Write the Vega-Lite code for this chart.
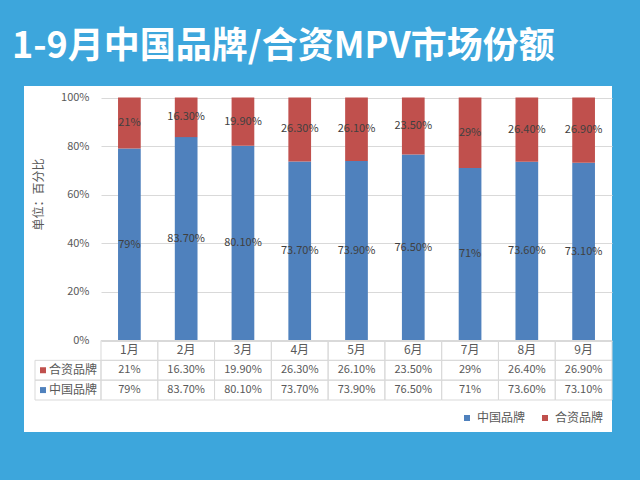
{
  "$schema": "https://vega.github.io/schema/vega-lite/v6.json",
  "width": 588,
  "height": 346,
  "autosize": "none",
  "padding": {"left": 24, "top": 86, "right": 28, "bottom": 48},
  "background": "#3DA6DC",
  "config": {
    "font": "Noto Sans CJK SC",
    "view": {"fill": "white", "stroke": null},
    "legend": {
      "orient": "bottom-right",
      "direction": "horizontal",
      "offset": 8,
      "padding": 0,
      "symbolType": "square",
      "symbolSize": 36,
      "symbolStrokeWidth": 0,
      "labelFontSize": 12,
      "labelColor": "#595959",
      "labelOffset": 4,
      "columnPadding": 13
    }
  },
  "title": {
    "text": "1-9月中国品牌/合资MPV市场份额",
    "anchor": "start",
    "frame": "group",
    "dx": -12,
    "dy": 34,
    "offset": 18,
    "baseline": "bottom",
    "font": "Noto Sans CJK SC",
    "fontSize": 36,
    "fontWeight": "bold",
    "color": "white"
  },
  "data": {
    "values": [
      {"month": "1月", "brand": "中国品牌", "value": 0.79, "label": "79%"},
      {"month": "1月", "brand": "合资品牌", "value": 0.21, "label": "21%"},
      {"month": "2月", "brand": "中国品牌", "value": 0.837, "label": "83.70%"},
      {"month": "2月", "brand": "合资品牌", "value": 0.163, "label": "16.30%"},
      {"month": "3月", "brand": "中国品牌", "value": 0.801, "label": "80.10%"},
      {"month": "3月", "brand": "合资品牌", "value": 0.199, "label": "19.90%"},
      {"month": "4月", "brand": "中国品牌", "value": 0.737, "label": "73.70%"},
      {"month": "4月", "brand": "合资品牌", "value": 0.263, "label": "26.30%"},
      {"month": "5月", "brand": "中国品牌", "value": 0.739, "label": "73.90%"},
      {"month": "5月", "brand": "合资品牌", "value": 0.261, "label": "26.10%"},
      {"month": "6月", "brand": "中国品牌", "value": 0.765, "label": "76.50%"},
      {"month": "6月", "brand": "合资品牌", "value": 0.235, "label": "23.50%"},
      {"month": "7月", "brand": "中国品牌", "value": 0.71, "label": "71%"},
      {"month": "7月", "brand": "合资品牌", "value": 0.29, "label": "29%"},
      {"month": "8月", "brand": "中国品牌", "value": 0.736, "label": "73.60%"},
      {"month": "8月", "brand": "合资品牌", "value": 0.264, "label": "26.40%"},
      {"month": "9月", "brand": "中国品牌", "value": 0.731, "label": "73.10%"},
      {"month": "9月", "brand": "合资品牌", "value": 0.269, "label": "26.90%"}
    ]
  },
  "layer": [
    {
      "encoding": {
        "x": {
          "field": "month", "type": "nominal",
          "sort": ["1月", "2月", "3月", "4月", "5月", "6月", "7月", "8月", "9月"],
          "scale": {"range": [77, 588], "paddingInner": 0.6, "paddingOuter": 0.3},
          "axis": null
        },
        "order": {"field": "brand", "type": "nominal"}
      },
      "layer": [
        {
          "mark": {"type": "bar"},
          "encoding": {
            "y": {
              "field": "value", "type": "quantitative", "stack": "zero",
              "scale": {"domain": [0, 1], "range": [254.5, 11.5], "nice": false},
              "axis": {
                "offset": -77,
                "format": ".0%",
                "values": [0, 0.2, 0.4, 0.6, 0.8, 1],
                "domain": false,
                "ticks": false,
                "labelPadding": 12,
                "labelFontSize": 11,
                "labelColor": "#595959",
                "grid": true,
                "gridColor": "#d9d9d9",
                "title": "单位：百分比",
                "titleX": -63,
                "titleY": 108,
                "titleAngle": -90,
                "titleAlign": "center",
                "titleBaseline": "middle",
                "titleFontSize": 12,
                "titleFontWeight": "normal",
                "titleColor": "#595959"
              }
            },
            "color": {
              "field": "brand", "type": "nominal",
              "scale": {"domain": ["中国品牌", "合资品牌"], "range": ["#4F81BD", "#C0504D"]},
              "legend": {"title": null}
            }
          }
        },
        {
          "mark": {"type": "text", "fontSize": 11, "color": "#404040"},
          "encoding": {
            "y": {
              "field": "value", "type": "quantitative", "stack": "zero", "bandPosition": 0.5,
              "scale": {"domain": [0, 1], "range": [254.5, 11.5], "nice": false}
            },
            "detail": {"field": "brand", "type": "nominal"},
            "text": {"field": "label", "type": "nominal"}
          }
        }
      ]
    },
    {
      "layer": [
        {
          "encoding": {
            "x": {
              "field": "month", "type": "nominal",
              "sort": ["1月", "2月", "3月", "4月", "5月", "6月", "7月", "8月", "9月"],
              "scale": {"range": [77, 588], "paddingInner": 0, "paddingOuter": 0},
              "axis": null
            }
          },
          "layer": [
            {
              "mark": {"type": "rect", "filled": false, "stroke": "#d9d9d9", "strokeWidth": 1},
              "encoding": {
                "y": {"field": "brand", "type": "nominal",
                  "scale": {"domain": ["月份", "合资品牌", "中国品牌"], "range": [254.5, 314], "paddingInner": 0, "paddingOuter": 0},
                  "axis": null}
              }
            },
            {
              "transform": [{"filter": "datum.brand === '中国品牌'"}],
              "mark": {"type": "rect", "filled": false, "stroke": "#d9d9d9", "strokeWidth": 1},
              "encoding": {
                "y": {"datum": "月份", "type": "nominal",
                  "scale": {"domain": ["月份", "合资品牌", "中国品牌"], "range": [254.5, 314], "paddingInner": 0, "paddingOuter": 0},
                  "axis": null}
              }
            },
            {
              "transform": [{"filter": "datum.brand === '中国品牌'"}],
              "mark": {"type": "text", "fontSize": 12, "color": "#595959"},
              "encoding": {
                "y": {"datum": "月份", "type": "nominal",
                  "scale": {"domain": ["月份", "合资品牌", "中国品牌"], "range": [254.5, 314], "paddingInner": 0, "paddingOuter": 0},
                  "axis": null},
                "text": {"field": "month", "type": "nominal"}
              }
            },
            {
              "mark": {"type": "text", "fontSize": 11, "color": "#595959"},
              "encoding": {
                "y": {"field": "brand", "type": "nominal",
                  "scale": {"domain": ["月份", "合资品牌", "中国品牌"], "range": [254.5, 314], "paddingInner": 0, "paddingOuter": 0},
                  "axis": null},
                "text": {"field": "label", "type": "nominal"}
              }
            }
          ]
        },
        {
          "transform": [{"filter": "datum.month === '1月'"}],
          "encoding": {
            "x": {"datum": "系列", "type": "nominal",
              "scale": {"range": [11, 77], "paddingInner": 0, "paddingOuter": 0}, "axis": null},
            "y": {"field": "brand", "type": "nominal",
              "scale": {"domain": ["月份", "合资品牌", "中国品牌"], "range": [254.5, 314], "paddingInner": 0, "paddingOuter": 0},
              "axis": null}
          },
          "layer": [
            {
              "mark": {"type": "rect", "filled": false, "stroke": "#d9d9d9", "strokeWidth": 1}
            },
            {
              "mark": {"type": "point", "shape": "square", "filled": true, "size": 36, "opacity": 1, "xOffset": -25},
              "encoding": {
                "color": {"field": "brand", "type": "nominal",
                  "scale": {"domain": ["中国品牌", "合资品牌"], "range": ["#4F81BD", "#C0504D"]},
                  "legend": {"title": null}}
              }
            },
            {
              "mark": {"type": "text", "align": "left", "dx": -19, "fontSize": 12, "color": "#595959"},
              "encoding": {
                "text": {"field": "brand", "type": "nominal"}
              }
            }
          ]
        }
      ],
      "resolve": {"scale": {"x": "independent"}}
    }
  ],
  "resolve": {"scale": {"x": "independent", "y": "independent"}}
}
